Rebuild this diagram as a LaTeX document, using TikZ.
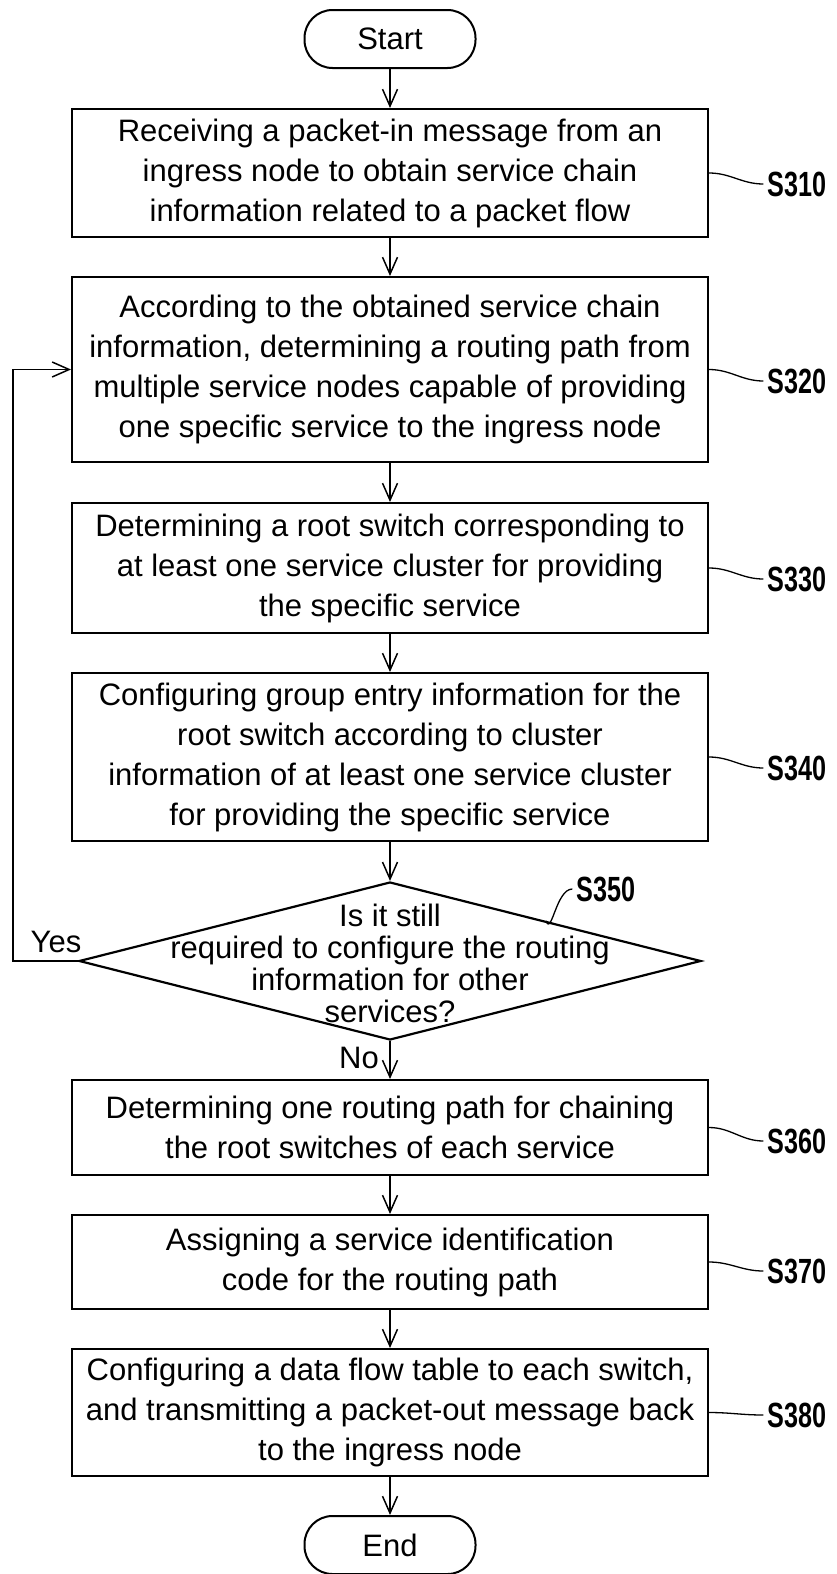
\documentclass[tikz,border=0pt]{standalone}
\usepackage{fontspec}
\setmainfont{Liberation Sans}
\newfontfamily\stepfont[FakeStretch=0.72]{Liberation Sans}
\usetikzlibrary{arrows.meta,shapes.geometric}
\begin{document}
\begin{tikzpicture}[x=1pt,y=-1pt,
    box/.style={draw,line width=2pt,minimum width=636pt,inner sep=0pt,
      align=center,font=\fontsize{31}{40}\selectfont},
    term/.style={draw,line width=2pt,rounded corners=28pt,minimum width=171pt,
      minimum height=58pt,font=\fontsize{31}{40}\selectfont},
    tag/.style={font=\stepfont\bfseries\fontsize{35}{40}\selectfont,inner xsep=4pt,inner ysep=0pt},
    flow/.style={-{Straight Barb[length=17pt,width=15pt,line width=1.5pt]},line width=1.5pt},
    lead/.style={line width=1.3pt}]
  \useasboundingbox (0,0) rectangle (837,1574);
  \node[term] (start) at (390,39) {Start};
  \node[box,minimum height=128pt] (s310) at (390,173)
    {Receiving a packet-in message from an\\ingress node to obtain service chain\\information related to a packet flow};
  \node[box,minimum height=185pt] (s320) at (390,369.5)
    {According to the obtained service chain\\information, determining a routing path from\\multiple service nodes capable of providing\\one specific service to the ingress node};
  \node[box,minimum height=130pt] (s330) at (390,568)
    {Determining a root switch corresponding to\\at least one service cluster for providing\\the specific service};
  \node[box,minimum height=168pt] (s340) at (390,757)
    {Configuring group entry information for the\\root switch according to cluster\\information of at least one service cluster\\for providing the specific service};
  \node[diamond,draw,line width=2.2pt,minimum width=622pt,minimum height=158pt,inner sep=0pt] (s350) at (390,961) {};
  \node[align=center,font=\fontsize{31}{32}\selectfont] (ask) at (390,963)
    {Is it still\\required to configure the routing\\information for other\\services?};
  \node[box,minimum height=95pt] (s360) at (390,1127.5)
    {Determining one routing path for chaining\\the root switches of each service};
  \node[box,minimum height=94pt] (s370) at (390,1262)
    {Assigning a service identification\\code for the routing path};
  \node[box,minimum height=127pt] (s380) at (390,1412.5)
    {Configuring a data flow table to each switch,\\and transmitting a packet-out message back\\to the ingress node};
  \node[term] (end) at (390,1545) {End};
  % step labels
  \node[tag] (l310) at (797,184) {S310};
  \node[tag] (l320) at (797,381) {S320};
  \node[tag] (l330) at (797,579) {S330};
  \node[tag] (l340) at (797,768) {S340};
  \node[tag] (l350) at (606,889) {S350};
  \node[tag] (l360) at (797,1141) {S360};
  \node[tag] (l370) at (797,1271) {S370};
  \node[tag] (l380) at (797,1415) {S380};
  \node[font=\fontsize{31}{40}\selectfont] (yes) at (56,942) {Yes};
  \node[font=\fontsize{31}{40}\selectfont] (no) at (359,1058) {No};
  \coordinate (loop) at (13,700);
  % flow
  \draw[flow] (start) -- (s310);
  \draw[flow] (s310) -- (s320);
  \draw[flow] (s320) -- (s330);
  \draw[flow] (s330) -- (s340);
  \draw[flow] (s340) -- (s350);
  \draw[flow] (s350) -- (s360);
  \draw[flow] (s360) -- (s370);
  \draw[flow] (s370) -- (s380);
  \draw[flow] (s380) -- (end);
  \draw[flow] (s350.west) -| (loop) |- (s320.west);
  % leaders
  \draw[lead] (s310.east) to[out=0,in=180] (l310.west);
  \draw[lead] (s320.east) to[out=0,in=180] (l320.west);
  \draw[lead] (s330.east) to[out=0,in=180] (l330.west);
  \draw[lead] (s340.east) to[out=0,in=180] (l340.west);
  \draw[lead] (s350.north east) to[out=-70,in=180] (l350.west);
  \draw[lead] (s360.east) to[out=0,in=180] (l360.west);
  \draw[lead] (s370.east) to[out=0,in=180] (l370.west);
  \draw[lead] (s380.east) to[out=0,in=180] (l380.west);
\end{tikzpicture}
\end{document}
